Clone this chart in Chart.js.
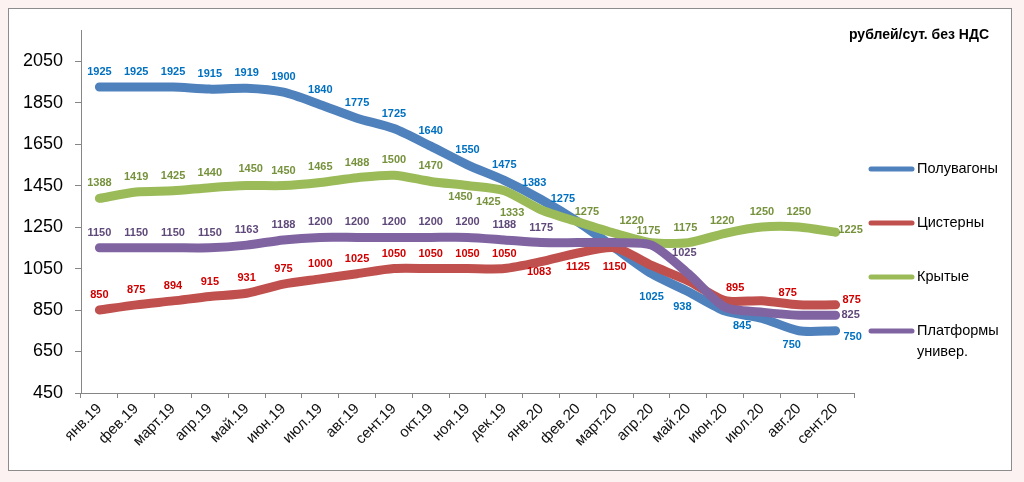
<!DOCTYPE html>
<html>
<head>
<meta charset="utf-8">
<script src="https://cdn.jsdelivr.net/npm/chart.js@4"></script>
<style>
  body { margin: 0; background: #fdf2f2; }
  canvas { display: block; }
</style>
</head>
<body>
<canvas id="railChart" width="1024" height="482"></canvas>
<script>
// ставки, рублей/сут. без НДС
const months = ["янв.19", "фев.19", "март.19", "апр.19", "май.19", "июн.19", "июл.19",
  "авг.19", "сент.19", "окт.19", "ноя.19", "дек.19", "янв.20", "фев.20", "март.20",
  "апр.20", "май.20", "июн.20", "июл.20", "авг.20", "сент.20"];
const gondola = [1925, 1925, 1925, 1915, 1919, 1900, 1840, 1775, 1725, 1640, 1550, 1475, 1383, 1275, 1150, 1025, 938, 845, 810, 750, 750];
const tank = [850, 875, 894, 915, 931, 975, 1000, 1025, 1050, 1050, 1050, 1050, 1083, 1125, 1150, 1065, 990, 895, 895, 875, 875];
const covered = [1388, 1419, 1425, 1440, 1450, 1450, 1465, 1488, 1500, 1470, 1450, 1425, 1333, 1275, 1220, 1175, 1175, 1220, 1250, 1250, 1225];
const platform = [1150, 1150, 1150, 1150, 1163, 1188, 1200, 1200, 1200, 1200, 1200, 1188, 1175, 1175, 1175, 1163, 1025, 863, 840, 825, 825];
const yTicks = [450, 650, 850, 1050, 1250, 1450, 1650, 1850, 2050];
const seriesNames = ["Полувагоны", "Цистерны", "Крытые", ["Платформы", "универ."]];
const unitText = "рублей/сут. без НДС";

const FONT = "'Liberation Sans', Arial, sans-serif";
const lineColors = ["#4f81bd", "#c0504d", "#9bbb59", "#8064a2"];
const labelColors = ["#0070c0", "#d00000", "#76923c", "#5f497a"];

// label placement tweaks: index -> [dx, dy]; default is above the point
const labelShift = [
  { 12: [-7, -17], 13: [-15, -23], 15: [0, 23], 16: [-6, 15], 17: [17, 15], 19: [-7, 14], 20: [17, 6] },
  { 12: [-2, 10], 13: [0, 14], 14: [0, 19], 17: [10, -13], 19: [-11, -12], 20: [16, -5] },
  { 4: [4, -17], 10: [-7, 11], 11: [-16, 11], 12: [-29, 3], 13: [9, -10], 14: [17, -12], 15: [-3, -12], 16: [-3, -15], 17: [-3, -12], 20: [15, -2] },
  { 16: [-4, -21], 20: [15, 0] }
];
const labelHidden = [
  [14, 18],
  [15, 16, 18],
  [],
  [13, 14, 15, 17, 18, 19]
];

const framePlugin = {
  id: "frame",
  beforeDraw(chart) {
    const ctx = chart.ctx;
    ctx.save();
    ctx.fillStyle = "#fdf2f2";
    ctx.fillRect(0, 0, chart.width, chart.height);
    ctx.fillStyle = "#ffffff";
    ctx.fillRect(8, 8, 1003, 462);
    ctx.strokeStyle = "#8c8c8c";
    ctx.lineWidth = 1;
    ctx.strokeRect(8.5, 8.5, 1003, 462);
    ctx.restore();
  }
};

const valueLabels = {
  id: "valueLabels",
  afterDatasetsDraw(chart) {
    const ctx = chart.ctx;
    ctx.save();
    ctx.font = "bold 11px " + FONT;
    ctx.textAlign = "center";
    ctx.textBaseline = "middle";
    chart.data.datasets.forEach((ds, si) => {
      const meta = chart.getDatasetMeta(si);
      ctx.fillStyle = labelColors[si];
      meta.data.forEach((pt, i) => {
        if (labelHidden[si].includes(i)) return;
        const shift = labelShift[si][i] || [0, -15];
        ctx.fillText(ds.data[i], pt.x + shift[0], pt.y + shift[1]);
      });
    });
    ctx.restore();
  }
};

const sideLegend = {
  id: "sideLegend",
  afterDraw(chart) {
    const ctx = chart.ctx;
    ctx.save();
    ctx.font = "bold 14px " + FONT;
    ctx.fillStyle = "#000";
    ctx.textAlign = "left";
    ctx.textBaseline = "middle";
    ctx.fillText(unitText, 849, 35);

    ctx.font = "14.5px " + FONT;
    ctx.lineCap = "round";
    ctx.lineWidth = 5;
    seriesNames.forEach((name, i) => {
      const y = 169 + i * 54;
      ctx.strokeStyle = lineColors[i];
      ctx.beginPath();
      ctx.moveTo(871, y);
      ctx.lineTo(912, y);
      ctx.stroke();
      ctx.fillStyle = "#000";
      const lines = Array.isArray(name) ? name : [name];
      lines.forEach((t, k) => ctx.fillText(t, 917, y + k * 21));
    });
    ctx.restore();
  }
};

function makeSeries(data, i) {
  return {
    label: Array.isArray(seriesNames[i]) ? seriesNames[i].join(" ") : seriesNames[i],
    data: data,
    borderColor: lineColors[i],
    backgroundColor: lineColors[i],
    borderWidth: 9,
    borderCapStyle: "round",
    borderJoinStyle: "round",
    pointRadius: 0,
    tension: 0.25,
    fill: false,
    order: 4 - i
  };
}

const axisGray = "#868686";

new Chart(document.getElementById("railChart"), {
  type: "line",
  data: {
    labels: months,
    datasets: [gondola, tank, covered, platform].map(makeSeries)
  },
  options: {
    responsive: false,
    animation: false,
    layout: { padding: { top: 30, right: 170, left: 0, bottom: 0 } },
    plugins: {
      legend: { display: false },
      tooltip: { enabled: false }
    },
    scales: {
      x: {
        offset: true,
        grid: { offset: true, drawOnChartArea: false, tickLength: 5, color: axisGray },
        border: { color: axisGray },
        ticks: {
          autoSkip: false,
          minRotation: 45,
          maxRotation: 45,
          padding: 2,
          color: "#111",
          font: { family: FONT, size: 15 }
        },
        afterFit(scale) { scale.height = 89; }
      },
      y: {
        min: 450,
        max: 2200,
        afterBuildTicks(scale) { scale.ticks = yTicks.map(v => ({ value: v })); },
        grid: { drawOnChartArea: false, tickLength: 6, color: axisGray },
        border: { color: axisGray },
        ticks: {
          padding: 12,
          color: "#000",
          font: { family: FONT, size: 18 },
          callback: v => String(v)
        },
        afterFit(scale) { scale.width = 81; }
      }
    }
  },
  plugins: [framePlugin, valueLabels, sideLegend]
});
</script>
</body>
</html>
